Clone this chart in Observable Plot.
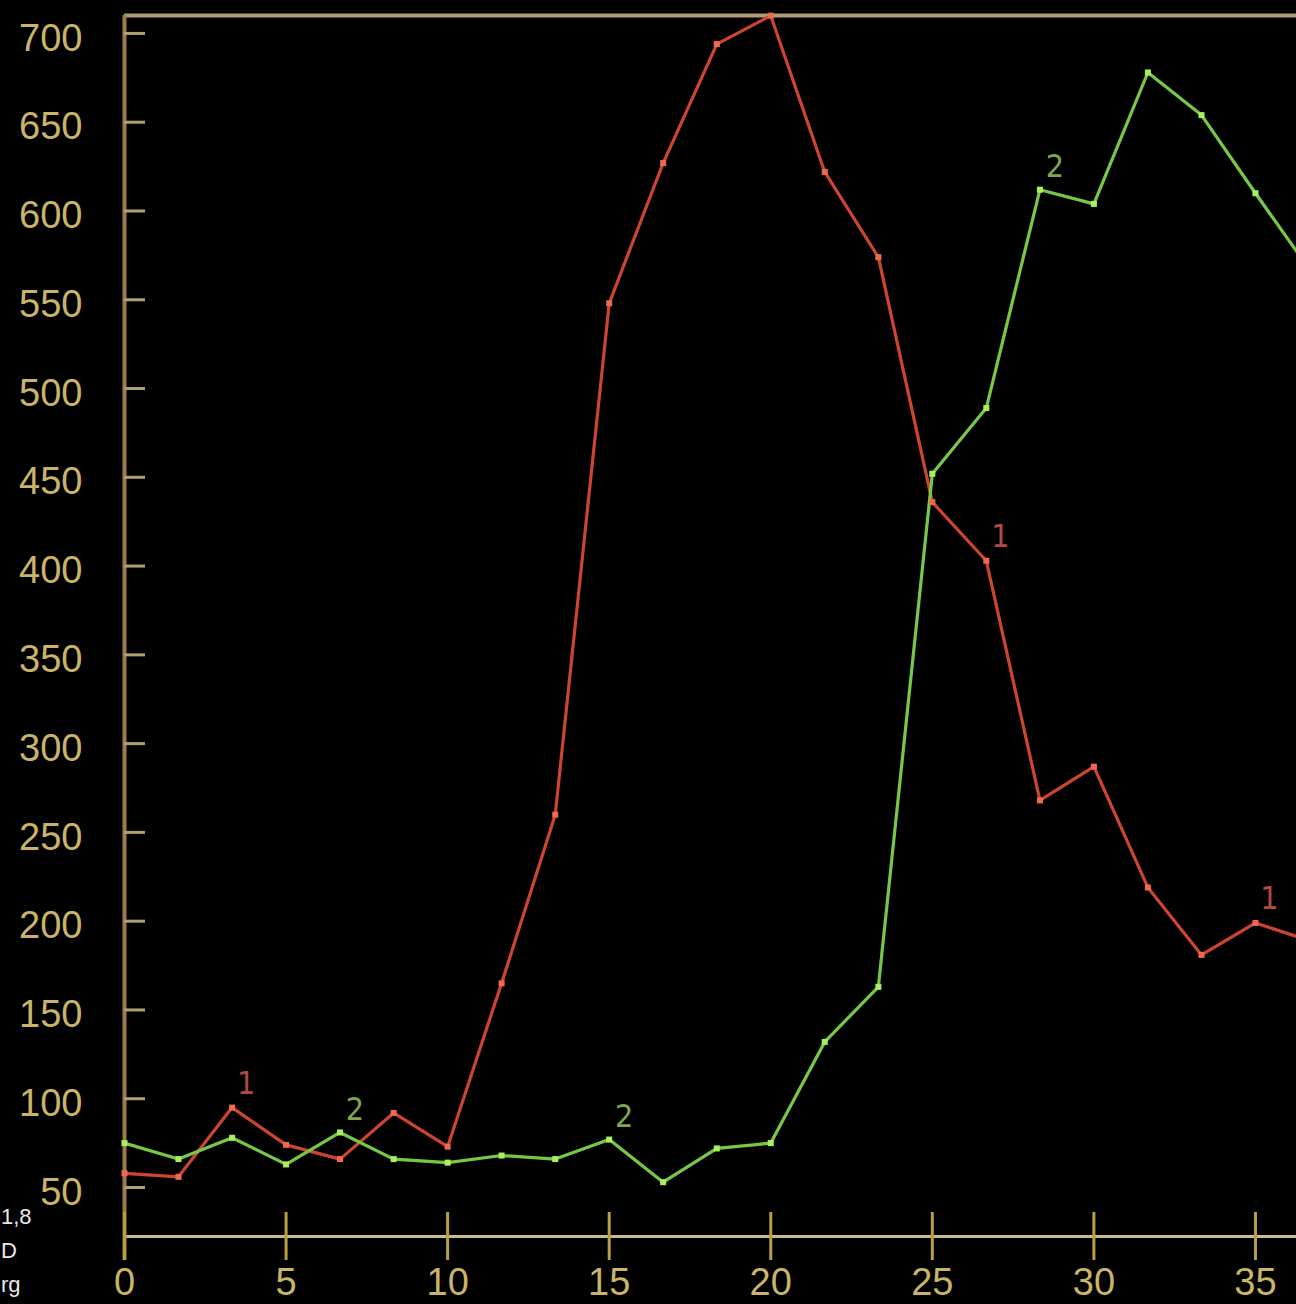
<!DOCTYPE html>
<html>
<head>
<meta charset="utf-8">
<script src="https://cdn.jsdelivr.net/npm/d3@7"></script>
<script src="https://cdn.jsdelivr.net/npm/@observablehq/plot@0.6"></script>
<style>
  html, body { margin: 0; padding: 0; background: #000; overflow: hidden; }
  #wrap { position: relative; width: 1296px; height: 1304px; }
  #side { position: absolute; left: 1px; top: 1200px; width: 34px; text-align: left;
          color: #e8e8e8; font: 22px "Liberation Sans Narrow", "Liberation Sans", Arial, sans-serif; line-height: 34px; }
</style>
</head>
<body>
<div id="wrap">
  <div id="chart"></div>
  <div id="side"><div>1,8</div><div>D</div><div>rg</div></div>
</div>
<script>
// ---- data ----
const xs = [0, 1.67, 3.33, 5, 6.67, 8.33, 10, 11.67, 13.33, 15, 16.67, 18.33, 20,
            21.67, 23.33, 25, 26.67, 28.33, 30, 31.67, 33.33, 35, 36.67];
const series1 = [58, 56, 95, 74, 66, 92, 73, 165, 260, 548, 627, 694, 710,
                 622, 574, 436, 403, 268, 287, 219, 181, 199, 189];
const series2 = [75, 66, 78, 63, 81, 66, 64, 68, 66, 77, 53, 72, 75,
                 132, 163, 452, 489, 612, 604, 678, 654, 610, 567];
const label1Index = [2, 16, 21];
const label2Index = [4, 9, 17];
const xTicks = [0, 5, 10, 15, 20, 25, 30, 35];
const yTicks = [50, 100, 150, 200, 250, 300, 350, 400, 450, 500, 550, 600, 650, 700];
const xDomain = [0, 36.27];
const yDomain = [22.4, 710.1];

const rows1 = xs.map((x, i) => ({x, y: series1[i], s: "1"}));
const rows2 = xs.map((x, i) => ({x, y: series2[i], s: "2"}));
const lab1 = label1Index.map(i => rows1[i]);
const lab2 = label2Index.map(i => rows2[i]);

const W = 1296, H = 1304, mL = 124, mR = 0, mT = 15, mB = 68;
const plotW = W - mL - mR, plotH = H - mT - mB;

const axisCol = "#9a7d48";
const textCol = "#c9b469";
const tickCol = "#b8a040";
const red = "#cc4530", redDot = "#ee6a4e", redLab = "#b04a44";
const green = "#78c848", greenDot = "#a8f060", greenLab = "#7fa850";

const chart = Plot.plot({
  width: W, height: H,
  marginLeft: mL, marginRight: mR, marginTop: mT, marginBottom: mB,
  style: {background: "#000", fontFamily: "'Liberation Sans', Arial, sans-serif", overflow: "hidden"},
  x: {domain: xDomain},
  y: {domain: yDomain},
  marks: [
    Plot.ruleY([yDomain[1]], {stroke: "#b09a78", strokeWidth: 4}),
    Plot.ruleY([yDomain[0]], {stroke: "#cdb894", strokeWidth: 3}),
    Plot.ruleX([xDomain[0]], {stroke: axisCol, strokeWidth: 4, insetBottom: -24}),
    Plot.tickX(xTicks, {x: d => d, stroke: tickCol, strokeWidth: 3, insetTop: plotH - 24, insetBottom: -24}),
    Plot.tickY(yTicks, {y: d => d, stroke: "#b0a070", strokeWidth: 3, insetRight: plotW - 21}),
    Plot.axisY({ticks: yTicks, tickSize: 0, tickPadding: 42, fontSize: 38, fill: textCol, dy: 5, label: null}),
    Plot.axisX({ticks: xTicks, tickSize: 0, tickPadding: 32, fontSize: 38, fill: textCol, label: null}),
    Plot.line(rows1, {x: "x", y: "y", stroke: red, strokeWidth: 3.2}),
    Plot.line(rows2, {x: "x", y: "y", stroke: green, strokeWidth: 3.2}),
    Plot.dot(rows1, {x: "x", y: "y", symbol: "square", r: 3.4, fill: redDot}),
    Plot.dot(rows2, {x: "x", y: "y", symbol: "square", r: 3.4, fill: greenDot}),
    Plot.text(lab1, {x: "x", y: "y", text: "s", dx: 14, dy: -24, fill: redLab, fontSize: 32,
                     fontFamily: "'Liberation Sans Narrow', 'DejaVu Sans Condensed', sans-serif"}),
    Plot.text(lab2, {x: "x", y: "y", text: "s", dx: 15, dy: -23, fill: greenLab, fontSize: 32,
                     fontFamily: "'Liberation Sans Narrow', 'DejaVu Sans Condensed', sans-serif"})
  ]
});
document.getElementById("chart").appendChild(chart);
</script>
</body>
</html>
